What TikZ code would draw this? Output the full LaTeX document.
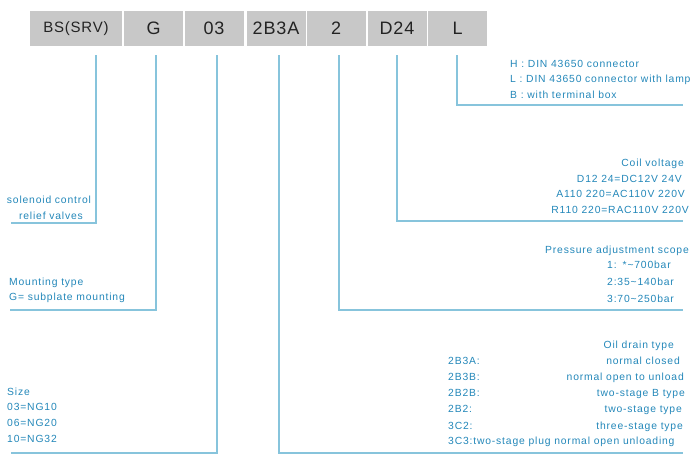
\documentclass[tikz,border=0pt]{standalone}
\usepackage{fontspec}
\setmainfont{Liberation Sans}
\newfontfamily\lblfont{Liberation Sans}[LetterSpace=8]
\newfontfamily\codefont{Liberation Sans}[LetterSpace=5]
\definecolor{txtblue}{RGB}{35,135,185}
\definecolor{lineblue}{RGB}{135,196,220}
\definecolor{boxgray}{RGB}{200,200,200}
\definecolor{boxtext}{RGB}{35,35,35}
\begin{document}
\begin{tikzpicture}[x=1pt,y=-1pt,
  codebox/.style={fill=boxgray, draw=none, minimum height=35pt, minimum width=59pt, inner sep=0pt, text=boxtext, font=\codefont\fontsize{18}{18}\selectfont},
  lbl/.style={inner sep=0pt, text=txtblue, font=\lblfont\fontsize{10.35}{12}\selectfont},
  lead/.style={draw=lineblue, line width=1.3pt}]
\useasboundingbox (0,0) rectangle (700,466);
% code boxes
\node[codebox, minimum width=92pt, font=\codefont\fontsize{15}{15}\selectfont] (b1) at (76,28.5) {BS(SRV)};
\node[codebox] (b2) at (153.5,28.5) {G};
\node[codebox] (b3) at (214,28.5) {03};
\node[codebox] (b4) at (276,28.5) {2B3A};
\node[codebox] (b5) at (336,28.5) {2};
\node[codebox] (b6) at (397,28.5) {D24};
\node[codebox] (b7) at (457.5,28.5) {L};
% leader lines
\coordinate (t1) at (96,55);  \coordinate (e1) at (11,223);
\coordinate (t2) at (156,55); \coordinate (e2) at (10,310);
\coordinate (t3) at (217,55); \coordinate (e3) at (11,453);
\coordinate (t4) at (279,55); \coordinate (e4) at (683,453);
\coordinate (t5) at (339,55); \coordinate (e5) at (683,310);
\coordinate (t6) at (397,55); \coordinate (e6) at (683,221);
\coordinate (t7) at (457,55); \coordinate (e7) at (683,105);
\foreach \i in {1,...,7} { \draw[lead] (t\i) |- (e\i); }
% L group
\node[lbl, anchor=base west] (l7a) at (510,67) {H : DIN 43650 connector};
\node[lbl, anchor=base west] (l7b) at (510,82.5) {L : DIN 43650 connector with lamp};
\node[lbl, anchor=base west] (l7c) at (510,98) {B : with terminal box};
% coil voltage
\node[lbl, anchor=base east] (l6a) at (684,166.5) {Coil voltage};
\node[lbl, anchor=base east] (l6b) at (682,182) {D12 24=DC12V 24V};
\node[lbl, anchor=base east] (l6c) at (685,197.5) {A110 220=AC110V 220V};
\node[lbl, anchor=base east] (l6d) at (689,213.5) {R110 220=RAC110V 220V};
% pressure
\node[lbl, anchor=base east] (l5a) at (689,253) {Pressure adjustment scope};
\node[lbl, anchor=base west] (l5b) at (607,268.5) {1:\hspace{6pt}*\textasciitilde700bar};
\node[lbl, anchor=base west] (l5c) at (607,285) {2:35\textasciitilde140bar};
\node[lbl, anchor=base west] (l5d) at (607,302) {3:70\textasciitilde250bar};
% oil drain
\node[lbl, anchor=base east] (l4a) at (674,348.5) {Oil drain type};
\node[lbl, anchor=base west] (l4b) at (448,364.5) {2B3A:};
\node[lbl, anchor=base west] (l4c) at (448,380) {2B3B:};
\node[lbl, anchor=base west] (l4d) at (448,396) {2B2B:};
\node[lbl, anchor=base west] (l4e) at (448,412) {2B2:};
\node[lbl, anchor=base west] (l4f) at (448,429) {3C2:};
\node[lbl, anchor=base west] (l4g) at (448,444) {3C3:two-stage plug normal open unloading};
\node[lbl, anchor=base east] (r4b) at (680,364.5) {normal closed};
\node[lbl, anchor=base east] (r4c) at (684,380) {normal open to unload};
\node[lbl, anchor=base east] (r4d) at (685,396) {two-stage B type};
\node[lbl, anchor=base east] (r4e) at (682,412) {two-stage type};
\node[lbl, anchor=base east] (r4f) at (683,429) {three-stage type};
% left groups
\node[lbl, anchor=base] (l1a) at (49,203.5) {solenoid control};
\node[lbl, anchor=base] (l1b) at (51,219) {relief valves};
\node[lbl, anchor=base west] (l2a) at (9,285) {Mounting type};
\node[lbl, anchor=base west] (l2b) at (9,300) {G= subplate mounting};
\node[lbl, anchor=base west] (l3a) at (7,395) {Size};
\node[lbl, anchor=base west] (l3b) at (7,410.5) {03=NG10};
\node[lbl, anchor=base west] (l3c) at (7,426.5) {06=NG20};
\node[lbl, anchor=base west] (l3d) at (7,442.5) {10=NG32};
\end{tikzpicture}
\end{document}
